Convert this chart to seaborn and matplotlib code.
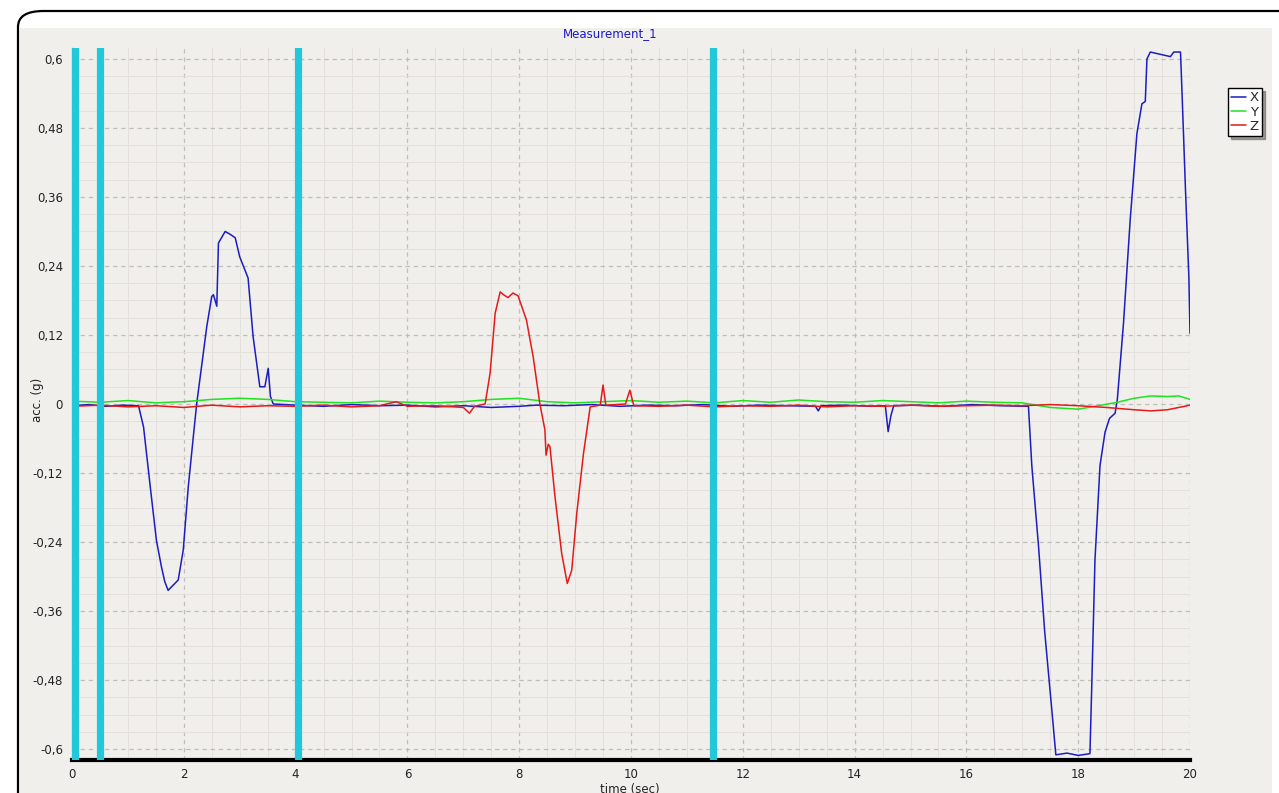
import pandas as pd
import matplotlib.pyplot as plt
import seaborn as sns
from matplotlib.patches import FancyBboxPatch, Rectangle
from matplotlib.ticker import MultipleLocator

# X axis acceleration (g)
x_time = [0, 0.3, 0.6, 0.9, 1.19, 1.28, 1.40, 1.51, 1.60, 1.66, 1.72, 1.81, 1.90, 1.99,
          2.08, 2.17, 2.23, 2.41, 2.50, 2.53, 2.59, 2.62, 2.74, 2.83, 2.92, 3.0, 3.15,
          3.24, 3.36, 3.45, 3.51, 3.55, 3.6, 4.0, 4.5, 5.0, 5.5, 6.0, 6.5, 7.0, 7.5,
          8.0, 8.3, 8.8, 9.3, 9.8, 10.3, 10.8, 11.3, 11.8, 12.3, 12.8, 13.3, 13.35,
          13.4, 13.8, 14.3, 14.55, 14.6, 14.65, 14.7, 15.1, 15.6, 16.1, 16.6, 17.11,
          17.17, 17.29, 17.40, 17.53, 17.60, 17.8, 18.0, 18.21, 18.24, 18.30, 18.39,
          18.48, 18.56, 18.66, 18.70, 18.81, 18.93, 19.05, 19.14, 19.20, 19.23, 19.29,
          19.47, 19.65, 19.71, 19.83, 19.86, 19.92, 19.98, 20.0]
x_acc = [-0.003, -0.001, -0.004, -0.002, -0.003, -0.04, -0.144, -0.237, -0.283, -0.309,
         -0.324, -0.315, -0.306, -0.254, -0.144, -0.057, 0.0, 0.134, 0.187, 0.19, 0.17,
         0.28, 0.30, 0.295, 0.289, 0.256, 0.219, 0.117, 0.03, 0.03, 0.062, 0.013, 0.0,
         -0.002, -0.004, -0.001, -0.003, -0.002, -0.005, -0.003, -0.006, -0.004, -0.002,
         -0.003, -0.001, -0.004, -0.002, -0.003, -0.001, -0.004, -0.002, -0.003, -0.004,
         -0.012, -0.003, -0.002, -0.004, -0.003, -0.048, -0.02, -0.003, -0.002, -0.004,
         -0.001, -0.003, -0.004, -0.107, -0.247, -0.395, -0.534, -0.61, -0.607, -0.611,
         -0.608, -0.50, -0.271, -0.107, -0.049, -0.025, -0.016, 0.008, 0.14, 0.32, 0.47,
         0.522, 0.526, 0.60, 0.612, 0.608, 0.604, 0.612, 0.612, 0.534, 0.37, 0.22, 0.123]

# Y axis acceleration (g)
y_time = [0, 0.5, 1.0, 1.5, 2.0, 2.5, 3.0, 3.5, 4.0, 4.5, 5.0, 5.5, 6.0, 6.5, 7.0, 7.5,
          8.0, 8.5, 9.0, 9.5, 10.0, 10.5, 11.0, 11.5, 12.0, 12.5, 13.0, 13.5, 14.0, 14.5,
          15.0, 15.5, 16.0, 16.5, 17.0, 17.5, 18.0, 18.3, 18.7, 19.0, 19.3, 19.6, 19.8, 20.0]
y_acc = [0.005, 0.003, 0.006, 0.002, 0.004, 0.008, 0.010, 0.008, 0.004, 0.003, 0.002,
         0.005, 0.003, 0.002, 0.004, 0.008, 0.010, 0.004, 0.002, 0.004, 0.006, 0.003,
         0.005, 0.002, 0.006, 0.003, 0.007, 0.004, 0.003, 0.006, 0.004, 0.002, 0.005,
         0.003, 0.002, -0.006, -0.009, -0.004, 0.003, 0.010, 0.014, 0.013, 0.014, 0.008]

# Z axis acceleration (g)
z_time = [0, 0.5, 1.0, 1.5, 2.0, 2.5, 3.0, 3.5, 4.0, 4.5, 5.0, 5.5, 5.8, 6.0, 6.5, 7.0,
          7.11, 7.2, 7.39, 7.48, 7.57, 7.66, 7.72, 7.80, 7.89, 7.98, 8.13, 8.25, 8.37,
          8.46, 8.48, 8.52, 8.55, 8.64, 8.76, 8.86, 8.94, 9.03, 9.15, 9.27, 9.45, 9.5,
          9.55, 9.9, 9.98, 10.05, 10.5, 11.0, 11.5, 12.0, 12.5, 13.0, 13.5, 14.0, 14.5,
          15.0, 15.5, 16.0, 16.5, 17.0, 17.5, 18.0, 18.5, 19.0, 19.3, 19.6, 20.0]
z_acc = [-0.004, -0.002, -0.005, -0.003, -0.006, -0.002, -0.005, -0.003, -0.004, -0.002,
         -0.005, -0.003, 0.004, -0.004, -0.003, -0.006, -0.016, -0.004, 0.0, 0.054,
         0.158, 0.195, 0.19, 0.185, 0.193, 0.188, 0.146, 0.082, 0.0, -0.045, -0.089,
         -0.07, -0.074, -0.161, -0.26, -0.312, -0.289, -0.19, -0.086, -0.005, -0.002,
         0.033, -0.002, 0.0, 0.024, -0.003, -0.004, -0.002, -0.005, -0.003, -0.004,
         -0.002, -0.005, -0.003, -0.004, -0.002, -0.004, -0.003, -0.002, -0.003, -0.001,
         -0.003, -0.006, -0.010, -0.012, -0.010, -0.002]

# event markers (sec)
marker_times = [0.05, 0.5, 4.05, 11.47]

x_ticks = [0, 2, 4, 6, 8, 10, 12, 14, 16, 18, 20]
y_ticks = [0.6, 0.48, 0.36, 0.24, 0.12, 0, -0.12, -0.24, -0.36, -0.48, -0.6]
y_tick_labels = ['0,6', '0,48', '0,36', '0,24', '0,12', '0',
                 '-0,12', '-0,24', '-0,36', '-0,48', '-0,6']

df = pd.concat([
    pd.DataFrame({'time': x_time, 'acc': x_acc, 'axis': 'X'}),
    pd.DataFrame({'time': y_time, 'acc': y_acc, 'axis': 'Y'}),
    pd.DataFrame({'time': z_time, 'acc': z_acc, 'axis': 'Z'}),
])

bg = '#f1efeb'
sns.set_style('white')
plt.rcParams['font.family'] = ['DejaVu Sans']

fig = plt.figure(figsize=(12.79, 7.93), dpi=100)
W, H = 1279, 793

# rounded frame and panel, behind the axes
fig.patches.append(FancyBboxPatch((18 / W, -0.1), 1.1, 1 - 11 / H + 0.1,
                                  boxstyle='round,pad=0,rounding_size=0.02',
                                  transform=fig.transFigure, fc='white', ec='black',
                                  lw=1.6, zorder=-3))
fig.patches.append(Rectangle((20 / W, 0), 1252 / W, 1 - 28 / H,
                             transform=fig.transFigure, fc=bg, ec='none', zorder=-2))

ax = fig.add_axes([72 / W, 33 / H, (1190 - 72) / W, (760 - 48) / H])
ax.set_facecolor(bg)

sns.lineplot(data=df, x='time', y='acc', hue='axis',
             palette={'X': '#1c1cc0', 'Y': '#22e022', 'Z': '#e41a1a'},
             estimator=None, sort=False, lw=1.1, ax=ax, zorder=2)

for t in marker_times:
    ax.axvline(t, color='#22c8da', lw=5.2, zorder=3)

ax.set_xlim(0, 20)
ax.set_ylim(-0.619, 0.619)
ax.set_xticks(x_ticks)
ax.set_yticks(y_ticks)
ax.set_yticklabels(y_tick_labels)
ax.xaxis.set_minor_locator(MultipleLocator(0.5))
ax.yaxis.set_minor_locator(MultipleLocator(0.03))
ax.grid(which='major', color='#c0beba', ls=(0, (3.5, 3)), lw=0.9)
ax.grid(which='minor', color='#e4e1dc', ls='-', lw=0.7)
ax.set_axisbelow(True)

for s in ['top', 'right']:
    ax.spines[s].set_visible(False)
ax.spines['left'].set_color('#a8a8a8')
ax.spines['left'].set_linewidth(1.0)
ax.spines['bottom'].set_color('black')
ax.spines['bottom'].set_linewidth(3)

ax.tick_params(axis='both', which='both', direction='out', color='#909090',
               labelsize=8.5, labelcolor='#222222')
ax.tick_params(axis='both', which='major', length=3, width=1)
ax.tick_params(axis='both', which='minor', length=2, width=1)
ax.tick_params(axis='x', pad=3)

ax.set_xlabel('')
ax.set_ylabel('')
fig.text(630 / W, 1 - 789 / H, 'time (sec)', ha='center', va='center', fontsize=8.5,
         color='#222222')
fig.text(37 / W, 1 - 400 / H, 'acc. (g)', ha='center', va='center', rotation=90,
         fontsize=8.5, color='#222222')
fig.text(610 / W, 1 - 34 / H, 'Measurement_1', ha='center', va='center',
         fontsize=8.5, color='#1a1ac8')

leg = ax.legend(loc='upper left', bbox_to_anchor=(1228 / W, 1 - 88 / H),
                bbox_transform=fig.transFigure, frameon=True, fancybox=False,
                shadow=True, fontsize=9.5, handlelength=1.1, handletextpad=0.3,
                borderpad=0.25, labelspacing=0.1, borderaxespad=0)
leg.get_frame().set_edgecolor('black')
leg.get_frame().set_facecolor('white')
leg.get_frame().set_linewidth(1)

fig.savefig('out.png', dpi=100, facecolor='white')
